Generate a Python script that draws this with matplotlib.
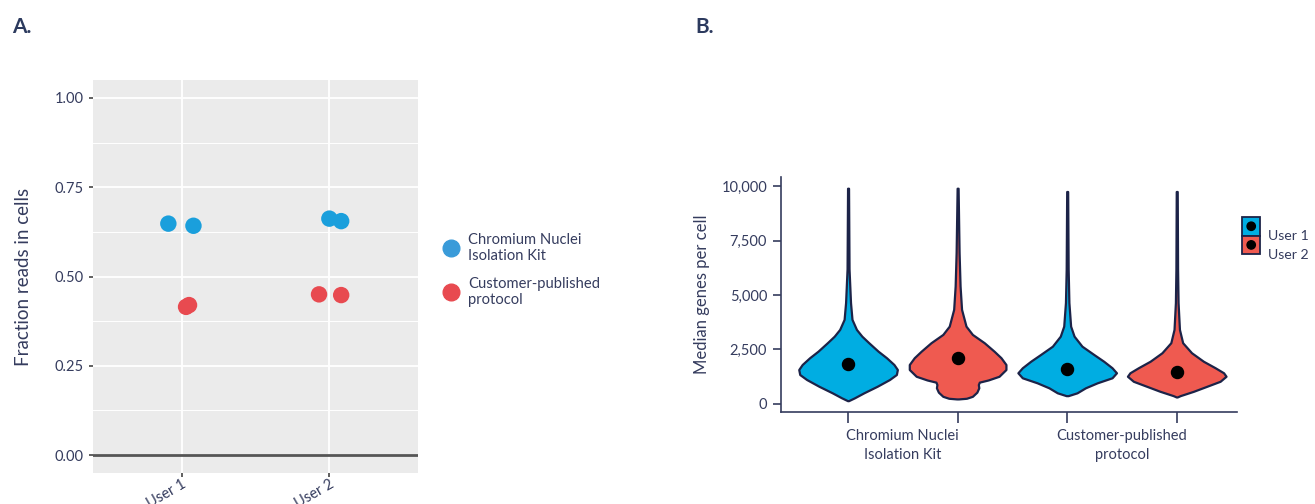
import numpy as np
import matplotlib
matplotlib.use("Agg")
import matplotlib.pyplot as plt
from matplotlib.lines import Line2D
from matplotlib.patches import Rectangle, Circle

# ------------------------------------
# Data
# ------------------------------------
users = ["User 1", "User 2"]
protocols = ["Chromium Nuclei\nIsolation Kit", "Customer-published\nprotocol"]

# panel A: fraction reads in cells (two replicates per user, jittered x)
kit_x = [0.91, 1.08, 2.00, 2.08]
kit_y = [0.648, 0.642, 0.662, 0.655]
cust_x = [1.03, 1.05, 1.93, 2.08]
cust_y = [0.415, 0.420, 0.450, 0.448]

# panel B: violin outlines (value, relative density)
kit_u1_val = [9900, 6200, 4650, 3880, 3420, 3110, 2810, 2420, 2120, 1810, 1580, 1350, 1120, 810, 510, 280, 150]
kit_u1_den = [0.01, 0.02, 0.05, 0.08, 0.17, 0.28, 0.42, 0.61, 0.78, 0.93, 1.00, 0.98, 0.84, 0.59, 0.32, 0.13, 0.01]
kit_u2_val = [9900, 6950, 5410, 4340, 3570, 3190, 2810, 2420, 2120, 1810, 1580, 1270, 1100, 1000, 890, 740, 540, 350, 260, 230]
kit_u2_den = [0.01, 0.03, 0.05, 0.08, 0.17, 0.30, 0.54, 0.74, 0.88, 0.98, 0.98, 0.84, 0.62, 0.44, 0.42, 0.43, 0.39, 0.30, 0.18, 0.02]
cust_u1_val = [9750, 6180, 4650, 3570, 3110, 2650, 2270, 1960, 1660, 1430, 1200, 970, 740, 510, 380]
cust_u1_den = [0.01, 0.02, 0.035, 0.07, 0.14, 0.30, 0.54, 0.74, 0.91, 1.00, 0.91, 0.61, 0.37, 0.20, 0.02]
cust_u2_val = [9750, 6180, 4650, 3420, 2810, 2350, 1960, 1660, 1430, 1270, 1040, 810, 580, 380, 320]
cust_u2_den = [0.01, 0.017, 0.027, 0.055, 0.12, 0.30, 0.54, 0.78, 0.95, 1.00, 0.88, 0.61, 0.34, 0.07, 0.01]
medians_u1 = [1840, 1610]
medians_u2 = [2110, 1470]

# ------------------------------------
# Style
# ------------------------------------
plt.rcParams["font.family"] = ["Lato", "DejaVu Sans"]
TXT = "#353c5e"
NAVY = "#1c2348"
BLUE_PT = "#1a9fdc"
RED_PT = "#e84a50"
BLUE_V = "#00ade2"
RED_V = "#ef5a50"
plt.rcParams["text.color"] = TXT
plt.rcParams["axes.labelcolor"] = TXT
plt.rcParams["xtick.color"] = TXT
plt.rcParams["ytick.color"] = TXT


class BoxDotHandler:
    # legend key: filled square with a black dot in the middle
    def legend_artist(self, legend, orig_handle, fontsize, handlebox):
        x0, y0 = handlebox.xdescent, handlebox.ydescent
        w, h = handlebox.width, handlebox.height
        box = Rectangle((x0, y0), w, h, facecolor=orig_handle.get_facecolor(),
                        edgecolor=NAVY, lw=1.3, transform=handlebox.get_transform())
        dot = Circle((x0 + w / 2, y0 + h / 2), 3.0, color="black",
                     transform=handlebox.get_transform())
        handlebox.add_artist(box)
        handlebox.add_artist(dot)
        return box


fig = plt.figure(figsize=(13.15, 5.04), dpi=100)

# ------------------------------------
# Panel A
# ------------------------------------
axA = fig.add_axes([93 / 1315, 1 - 473 / 504, 325 / 1315, 393 / 504])
axA.set_facecolor("#ebebeb")
for s in axA.spines.values():
    s.set_visible(False)
axA.set_xlim(0.4, 2.6)
axA.set_ylim(-0.05, 1.05)
axA.set_yticks([0, 0.25, 0.5, 0.75, 1.0])
axA.set_yticks([0.125, 0.375, 0.625, 0.875], minor=True)
axA.set_yticklabels(["0.00", "0.25", "0.50", "0.75", "1.00"], fontsize=10.5)
axA.set_xticks([1, 2])
axA.set_xticklabels(users, fontsize=10.5, rotation=30, ha="right",
                    rotation_mode="anchor")
axA.grid(True, which="major", color="white", lw=1.3)
axA.grid(True, which="minor", axis="y", color="white", lw=0.7)
axA.set_axisbelow(True)
axA.tick_params(axis="both", which="major", length=3, width=1.2, color="#444444", pad=4)
axA.tick_params(axis="y", which="minor", length=0)
axA.tick_params(axis="x", pad=0)
axA.axhline(0, color="#555555", lw=2, zorder=2)
axA.scatter(kit_x, kit_y, s=140, color=BLUE_PT, edgecolors="none", zorder=3)
axA.scatter(cust_x, cust_y, s=140, color=RED_PT, edgecolors="none", zorder=3)
axA.set_ylabel("Fraction reads in cells", fontsize=13.5, labelpad=16)

legA = [Line2D([], [], marker="o", ls="", ms=12, color="#3a9bd9"),
        Line2D([], [], marker="o", ls="", ms=12, color=RED_PT)]
fig.legend(legA, ["Chromium Nuclei\nIsolation Kit", "Customer-published\nprotocol"],
           loc="center left", bbox_to_anchor=(436 / 1315, 1 - 270 / 504),
           frameon=False, fontsize=10.6, labelspacing=0.95, handletextpad=0.6,
           handlelength=1.2, borderaxespad=0)

fig.text(12 / 1315, 1 - 27 / 504, "A.", fontsize=15, fontweight="bold",
         color="#2c3a5e", va="center")
fig.text(695 / 1315, 1 - 27 / 504, "B.", fontsize=15, fontweight="bold",
         color="#2c3a5e", va="center")

# ------------------------------------
# Panel B
# ------------------------------------
axB = fig.add_axes([781 / 1315, 1 - 412 / 504, 456 / 1315, 235 / 504])
axB.set_xlim(-0.556, 1.525)
axB.set_ylim(-370, 10415)
for side in ["top", "right"]:
    axB.spines[side].set_visible(False)
for side in ["left", "bottom"]:
    axB.spines[side].set_color(TXT)
    axB.spines[side].set_linewidth(1.2)

dodge = 0.25
maxw = 0.225
cats = np.arange(len(protocols))
outlines_u1 = [(kit_u1_val, kit_u1_den), (cust_u1_val, cust_u1_den)]
outlines_u2 = [(kit_u2_val, kit_u2_den), (cust_u2_val, cust_u2_den)]
for i, c in enumerate(cats):
    for pos, (val, den), col, med in [(c - dodge, outlines_u1[i], BLUE_V, medians_u1[i]),
                                      (c + dodge, outlines_u2[i], RED_V, medians_u2[i])]:
        val = np.array(val, dtype=float)
        den = np.array(den) * maxw
        axB.fill_betweenx(val, pos - den, pos + den, facecolor=col,
                          edgecolor=NAVY, lw=1.6, joinstyle="round", zorder=2)
        axB.scatter([pos], [med], s=75, color="black", zorder=3)

axB.set_xticks(np.concatenate([cats - dodge, cats + dodge]))
axB.set_xticklabels([])
axB.set_xticks(cats, minor=True)
axB.set_xticklabels(protocols, minor=True, fontsize=10.5, linespacing=1.5)
axB.tick_params(axis="x", which="major", length=8, width=1.2, color=TXT)
axB.tick_params(axis="x", which="minor", length=0, pad=12)
axB.set_yticks([0, 2500, 5000, 7500, 10000])
axB.set_yticklabels(["0", "2,500", "5,000", "7,500", "10,000"], fontsize=10.5)
axB.tick_params(axis="y", length=6, width=1.2, color=TXT, pad=4)
axB.set_ylabel("Median genes per cell", fontsize=12, labelpad=8)

legB = [Rectangle((0, 0), 1, 1, facecolor=BLUE_V),
        Rectangle((0, 0), 1, 1, facecolor=RED_V)]
fig.legend(legB, users, handler_map={Rectangle: BoxDotHandler()},
           loc="center left", bbox_to_anchor=(1242 / 1315, 1 - 245 / 504),
           frameon=False, fontsize=10.2, labelspacing=0.0, handlelength=1.3,
           handleheight=1.65, handletextpad=0.55, borderaxespad=0, borderpad=0)

fig.savefig("out.png", dpi=100)
